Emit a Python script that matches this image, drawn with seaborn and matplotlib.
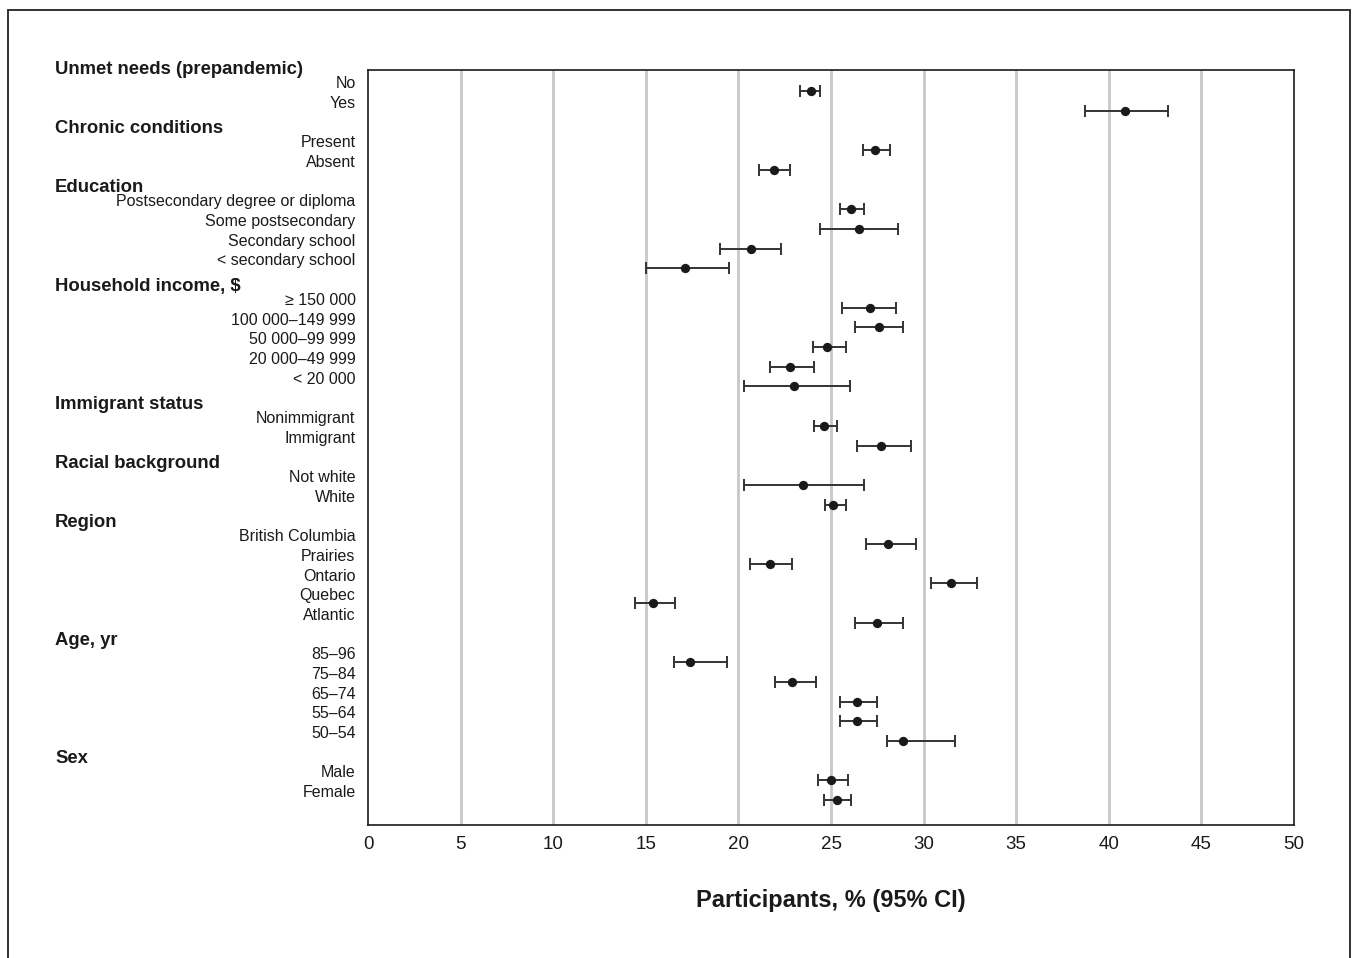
import matplotlib
matplotlib.use('Agg')
import matplotlib.pyplot as plt
import matplotlib.transforms as mtransforms
import pandas as pd
import seaborn as sns
from matplotlib.patches import Rectangle

groups = ['Unmet needs (prepandemic)', 'Chronic conditions', 'Education',
          'Household income, $', 'Immigrant status', 'Racial background',
          'Region', 'Age, yr', 'Sex']
items = [
    ['No', 'Yes'],
    ['Present', 'Absent'],
    ['Postsecondary degree or diploma', 'Some postsecondary',
     'Secondary school', '< secondary school'],
    ['\u2265 150 000', '100 000\u2013149 999', '50 000\u201399 999',
     '20 000\u201349 999', '< 20 000'],
    ['Nonimmigrant', 'Immigrant'],
    ['Not white', 'White'],
    ['British Columbia', 'Prairies', 'Ontario', 'Quebec', 'Atlantic'],
    ['85\u201396', '75\u201384', '65\u201374', '55\u201364', '50\u201354'],
    ['Male', 'Female'],
]
estimate = [23.9, 40.9,
            27.4, 21.9,
            26.1, 26.5, 20.7, 17.1,
            27.1, 27.6, 24.8, 22.8, 23.0,
            24.6, 27.7,
            23.5, 25.1,
            28.1, 21.7, 31.5, 15.4, 27.5,
            17.4, 22.9, 26.4, 26.4, 28.9,
            25.0, 25.3]
lower = [23.3, 38.7,
         26.7, 21.1,
         25.5, 24.4, 19.0, 15.0,
         25.6, 26.3, 24.0, 21.7, 20.3,
         24.1, 26.4,
         20.3, 24.7,
         26.9, 20.6, 30.4, 14.4, 26.3,
         16.5, 22.0, 25.5, 25.5, 28.0,
         24.3, 24.6]
upper = [24.4, 43.2,
         28.2, 22.8,
         26.8, 28.6, 22.3, 19.5,
         28.5, 28.9, 25.8, 24.1, 26.0,
         25.3, 29.3,
         26.8, 25.8,
         29.6, 22.9, 32.9, 16.6, 28.9,
         19.4, 24.2, 27.5, 27.5, 31.7,
         25.9, 26.1]

# row layout: one blank row between groups
rows, labels, first_rows = [], [], []
r = 0
for g, its in zip(groups, items):
    first_rows.append(r)
    for it in its:
        rows.append(r)
        labels.append(it)
        r += 1
    r += 1

df = pd.DataFrame({'row': rows, 'label': labels, 'est': estimate,
                   'lo': lower, 'hi': upper})

sns.set_style('white')
plt.rcParams['font.family'] = ['Liberation Sans', 'DejaVu Sans']
ink = '#1a1a1a'

fig = plt.figure(figsize=(13.56, 9.58), dpi=100)
ax = fig.add_axes([0.2714, 0.1388, 0.6829, 0.7881])

ax.errorbar(df['est'], df['row'],
            xerr=[df['est'] - df['lo'], df['hi'] - df['est']],
            fmt='none', ecolor='#333333', elinewidth=1.4, capsize=4.5,
            capthick=1.4, zorder=3)
sns.scatterplot(data=df, x='est', y='row', color=ink, s=45,
                edgecolor=ink, linewidth=0, zorder=4, ax=ax)

ax.set_xlim(0, 50)
ax.set_ylim(max(rows) + 1.27, -1.07)
ax.set_xticks(range(0, 51, 5))
ax.tick_params(axis='x', length=6, width=1, direction='out', pad=2,
               labelsize=13.5, colors=ink)
ax.set_yticks([p - 0.45 for p in rows])
ax.set_yticklabels(labels, fontsize=11.5, color=ink)
ax.tick_params(axis='y', length=0, pad=9)
for x in range(5, 50, 5):
    ax.axvline(x, color='#c8c8c8', lw=2, zorder=1)
for sp in ax.spines.values():
    sp.set_color(ink)
    sp.set_linewidth(1.2)

ax.set_xlabel('Participants, % (95% CI)', fontsize=17, fontweight='bold',
              color=ink, labelpad=26)
ax.set_ylabel('')

trans = mtransforms.blended_transform_factory(fig.transFigure, ax.transData)
for g, fr in zip(groups, first_rows):
    ax.text(0.0406, fr - 1.1, g, transform=trans, fontsize=13.3,
            fontweight='bold', color=ink, ha='left', va='center')

fig.patches.append(Rectangle((8 / 1356, -0.05), 1342 / 1356, 1.05 - 10 / 958,
                             transform=fig.transFigure, fill=False,
                             edgecolor='#222222', linewidth=1.3))

fig.savefig('out.png', dpi=100)
